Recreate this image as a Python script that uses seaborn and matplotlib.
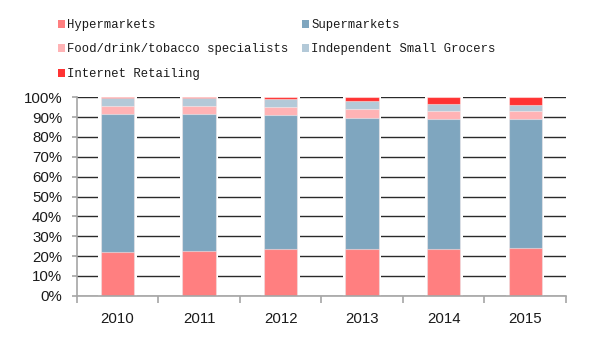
import numpy as np
import pandas as pd
import matplotlib
matplotlib.use("Agg")
import matplotlib.pyplot as plt
import seaborn as sns
from matplotlib.patches import Patch

years = ["2010", "2011", "2012", "2013", "2014", "2015"]
hypermarkets = [22.2, 22.7, 23.4, 23.4, 23.4, 24.0]
supermarkets = [69.5, 69.0, 67.8, 66.2, 65.7, 65.1]
food_specialists = [3.9, 3.9, 3.9, 4.5, 4.1, 4.0]
small_grocers = [3.9, 3.9, 4.0, 4.0, 3.6, 3.0]
internet = [0.5, 0.5, 0.9, 1.9, 3.2, 3.9]

series_names = ["Hypermarkets", "Supermarkets", "Food/drink/tobacco specialists",
                "Independent Small Grocers", "Internet Retailing"]
series_values = [hypermarkets, supermarkets, food_specialists, small_grocers, internet]
colors = ["#FF7F80", "#7FA6BF", "#FFB3B5", "#B3C9D8", "#FF3333"]

sns.set_style("white")
plt.rcParams["font.family"] = ["Liberation Sans", "DejaVu Sans"]

fig = plt.figure(figsize=(5.97, 3.41), dpi=100)
ax = fig.add_axes([76.7 / 597, 1 - 295.7 / 341, (566 - 76.7) / 597, (295.7 - 97.3) / 341])

df = pd.DataFrame({"year": years})
for name, vals in zip(series_names, series_values):
    df[name] = vals
cum = df[series_names].cumsum(axis=1)

# white backing to break the gridlines around each bar
sns.barplot(x=df["year"], y=cum[series_names[-1]], color="white", width=0.47,
            ax=ax, zorder=2, linewidth=0, saturation=1)
# draw cumulative totals from top to bottom so each segment overlays
for name, col in reversed(list(zip(series_names, colors))):
    sns.barplot(x=df["year"], y=cum[name], color=col, width=0.41, ax=ax,
                zorder=3, saturation=1, edgecolor=(1, 1, 1, 0.45), linewidth=0.8)

ax.set_xlim(-0.5, 5.5)
ax.set_ylim(0, 100)
ax.set_yticks(np.arange(0, 101, 10))
ax.set_yticklabels([f"{v}%" for v in range(0, 101, 10)])
ax.yaxis.grid(True, color="#2a2a2a", linewidth=1.0, zorder=1)
ax.set_axisbelow(True)
ax.set_xlabel("")
ax.set_ylabel("")

for s in ["top", "right"]:
    ax.spines[s].set_visible(False)
for s in ["left", "bottom"]:
    ax.spines[s].set_color("#a6a6a6")
    ax.spines[s].set_linewidth(1.2)
    ax.spines[s].set_zorder(5)

ax.set_xticks(np.arange(-0.5, 6, 1), minor=True)
ax.tick_params(axis="x", which="minor", length=5, color="#a6a6a6", width=1.2, direction="out", bottom=True)
ax.tick_params(axis="x", which="major", length=0, pad=12, labelsize=10.8, labelcolor="#1a1a1a")
ax.tick_params(axis="y", which="major", length=3.5, color="#a6a6a6", width=1.2, direction="out",
               left=True, pad=7, labelsize=10.8, labelcolor="#1a1a1a")

handles = [Patch(facecolor=c, edgecolor="none") for c in colors]
order = [0, 2, 4, 1, 3]
leg = fig.legend([handles[i] for i in order], [series_names[i] for i in order],
                 ncol=2, loc="upper left", bbox_to_anchor=(58 / 597, 1 - 19 / 341),
                 frameon=False, borderpad=0, borderaxespad=0,
                 handlelength=0.55, handleheight=0.63, handletextpad=0.15,
                 columnspacing=1.2, labelspacing=1.02,
                 prop={"family": "Liberation Mono", "size": 8.8})
for t in leg.get_texts():
    t.set_color("#1a1a1a")

fig.savefig("out.png", dpi=100)
